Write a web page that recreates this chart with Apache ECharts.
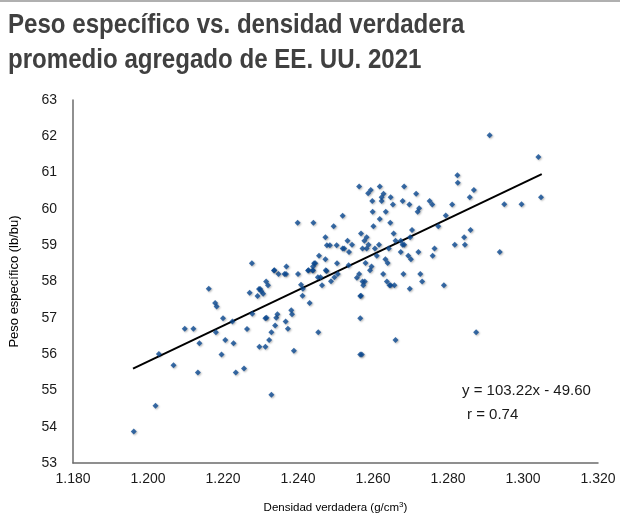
<!DOCTYPE html>
<html>
<head>
<meta charset="utf-8">
<script src="https://cdn.jsdelivr.net/npm/echarts@6/dist/echarts.min.js"></script>
<style>
html,body{margin:0;padding:0;background:#fff;}
#chart{width:620px;height:519px;}
</style>
</head>
<body>
<div id="chart"></div>
<script>
// True density (g/cm3)
var densidad = [
1.1962,1.2020,1.2029,1.2068,1.2098,1.2121,1.2137,1.2133,
1.2162,1.2179,1.2183,1.2200,1.2181,1.2206,1.2228,1.2196,1.2234,1.2256,1.2225,1.2264,
1.2271,1.2278,1.2292,1.2296,1.2299,1.2302,1.2307,1.2315,1.2320,1.2313,1.2316,1.2297,
1.2313,1.2323,1.2329,1.2329,1.2339,1.2342,1.2345,1.2367,1.2373,1.2382,1.2384,1.2389,
1.2431,1.2408,1.2412,1.2413,1.2454,1.2400,1.2364,1.2368,1.2348,1.2336,1.2427,1.2439,
1.2453,1.2460,1.2464,1.2476,1.2488,1.2497,1.2506,
1.2277,1.2399,1.2441,1.2495,1.2473,1.2477,1.2485,1.2503,1.2456,1.2473,1.2443,1.2446,
1.2440,1.2428,1.2440,1.2474,1.2504,1.2337,1.2369,
1.2519,1.2563,1.2519,1.2523,1.2532,1.2544,1.2536,1.2535,1.2557,1.2563,1.2566,1.2566,
1.2594,1.2587,1.2618,1.2683,1.2628,1.2623,1.2623,1.2647,1.2598,1.2653,1.2679,1.2715,
1.2697,1.2723,1.2719,1.2751,1.2758,1.2811,1.2825,1.2826,1.2869,1.2858,1.2599,1.2634,
1.2618,1.2646,1.2601,1.2568,1.2577,1.2583,1.2572,1.2583,1.2588,1.2605,1.2616,1.2610,
1.2655,1.2660,1.2642,1.2674,1.2679,1.2683,1.2674,1.2699,1.2704,1.2694,1.2701,1.2721,
1.2764,1.2759,1.2774,1.2794,1.2818,1.2845,1.2843,1.2860,1.2580,1.2633,1.2639,1.2596,
1.2592,1.2627,1.2681,1.2726,1.2731,1.2637,1.2572,1.2578,1.2574,1.2644,1.2647,1.2657,
1.2698,1.2789,1.2568,1.2660,1.2875,1.2566,1.2570,
1.2911,1.3041,1.2950,1.2996,1.3048,1.2938
];
// Test weight (lb/bu)
var pesoEspecifico = [
53.87,54.58,56.00,55.69,56.70,56.70,56.30,55.49,
57.80,57.41,57.31,56.99,56.60,56.39,56.30,55.99,55.49,55.60,56.90,56.69,
57.69,57.11,57.60,57.79,57.79,57.73,57.66,58.00,57.90,56.99,57.00,56.20,
56.20,56.39,56.60,54.88,56.79,57.00,57.10,56.90,56.70,57.21,57.10,56.09,
57.41,57.91,57.61,57.80,56.60,58.21,58.21,58.21,58.21,58.30,58.30,58.30,
58.12,58.12,57.90,58.29,58.01,58.12,58.21,
58.50,59.62,59.62,59.52,59.22,59.00,59.00,59.00,58.71,58.61,58.50,58.50,
58.41,58.31,58.31,58.31,58.50,58.31,58.41,
59.81,60.62,58.91,58.91,59.12,59.01,58.81,58.45,58.10,58.21,57.60,56.99,
60.52,60.43,60.62,60.62,60.42,60.32,60.22,60.32,60.22,60.12,60.22,60.42,
60.12,60.02,59.92,60.22,60.12,60.12,60.93,60.72,60.52,60.32,59.92,59.92,
59.72,59.62,59.52,59.32,59.12,59.22,58.91,58.91,59.01,58.91,59.01,58.71,
59.32,59.12,58.91,59.12,59.01,59.01,58.81,59.22,59.42,58.71,58.61,58.81,
58.91,58.71,59.52,59.82,59.01,59.01,59.22,59.42,58.51,58.61,58.51,58.41,
58.31,58.21,58.21,58.21,58.00,58.00,58.00,58.00,57.90,57.90,57.90,57.90,
57.80,57.90,57.61,56.39,56.60,55.99,55.99,
62.03,61.43,60.13,60.13,60.32,58.81
];
// Trend line end points
var trendX = [1.196, 1.305];
var trendY = [55.60, 60.96];
var xTicks = {min: 1.18, max: 1.32, interval: 0.02};
var yTicks = {min: 53, max: 63, interval: 1};
var titulo = 'Peso específico vs. densidad verdadera\npromedio agregado de EE. UU. 2021';
var ecuacion = 'y = 103.22x - 49.60';
var coefR = 'r = 0.74';

var pts = densidad.map(function(x, i){ return [x, pesoEspecifico[i]]; });
var trend = trendX.map(function(x, i){ return [x, trendY[i]]; });

var chart = echarts.init(document.getElementById('chart'), null, {renderer: 'canvas'});
var FONT = '"Liberation Sans", Arial, sans-serif';
chart.setOption({
  animation: false,
  backgroundColor: '#ffffff',
  grid: {left: 71, right: 22, top: 100, bottom: 56},
  xAxis: {
    type: 'value',
    min: xTicks.min, max: xTicks.max, interval: xTicks.interval,
    name: 'Densidad verdadera (g/cm{sup|3})',
    nameLocation: 'middle', nameGap: 38,
    nameTextStyle: {fontFamily: FONT, fontSize: 11.5, color: '#000', rich: {sup: {fontSize: 8, verticalAlign: 'top', padding: [0,0,6,0], fontFamily: FONT}}},
    axisLine: {show: true, lineStyle: {color: '#6b6b6b', width: 1.5}},
    axisTick: {show: false},
    splitLine: {show: false},
    axisLabel: {fontFamily: FONT, fontSize: 14, color: '#1a1a1a', margin: 9,
      formatter: function(v){ return v.toFixed(3); }}
  },
  yAxis: {
    type: 'value',
    min: yTicks.min, max: yTicks.max, interval: yTicks.interval,
    name: 'Peso específico (lb/bu)',
    nameLocation: 'middle', nameGap: 52,
    nameTextStyle: {fontFamily: FONT, fontSize: 13, color: '#000'},
    axisLine: {show: true, lineStyle: {color: '#6b6b6b', width: 1.5}},
    axisTick: {show: false},
    splitLine: {show: false},
    axisLabel: {fontFamily: FONT, fontSize: 14, color: '#1a1a1a', margin: 16}
  },
  series: [
    {
      type: 'line', data: trend, showSymbol: false, symbol: 'none',
      lineStyle: {color: '#000', width: 2}, z: 3, silent: true
    },
    {
      type: 'scatter', data: pts, symbol: 'diamond', symbolSize: 6,
      itemStyle: {color: '#0b4a92', shadowColor: 'rgba(0,0,0,0.35)', shadowBlur: 2, shadowOffsetX: 1, shadowOffsetY: 1},
      z: 4
    }
  ],
  graphic: [
    {type: 'line', shape: {x1: 0, y1: 1, x2: 620, y2: 1}, style: {stroke: '#b0b0b0', lineWidth: 2}},
    {type: 'text', x: 8, y: 8, scaleX: 0.86, scaleY: 1,
      style: {text: titulo, font: 'bold 28px ' + FONT, fill: '#404040', lineHeight: 35}},
    {type: 'text', left: 462, top: 383, style: {text: ecuacion, font: '15px ' + FONT, fill: '#1a1a1a'}},
    {type: 'text', left: 467, top: 407, style: {text: coefR, font: '15px ' + FONT, fill: '#1a1a1a'}}
  ]
});
</script>
</body>
</html>
